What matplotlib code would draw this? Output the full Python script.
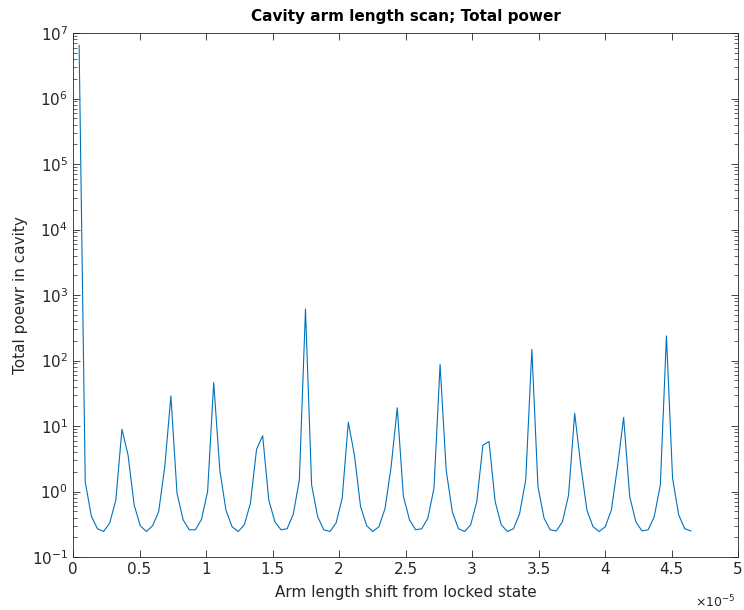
import numpy as np
import matplotlib
matplotlib.use('Agg')
import matplotlib.pyplot as plt
from matplotlib.ticker import FuncFormatter, LogLocator

# sample step of the arm length scan (m)
dx = 0.046e-5
n_samples = 101

# total power, one value per sample
power = [
    6.5e6, 1.4, 0.42, 0.27, 0.245, 0.33, 0.74, 8.9, 3.6, 0.62,
    0.30, 0.245, 0.30, 0.49, 2.4, 28.7, 0.94, 0.37, 0.26, 0.26,
    0.376, 1.0, 46, 2.1, 0.52, 0.29, 0.245, 0.31, 0.66, 4.4,
    7.1, 0.74, 0.345, 0.26, 0.27, 0.45, 1.5, 611, 1.26, 0.41,
    0.26, 0.245, 0.33, 0.79, 11.4, 3.6, 0.59, 0.30, 0.245, 0.29,
    0.55, 2.4, 19, 0.85, 0.37, 0.26, 0.27, 0.39, 1.12, 87,
    2.1, 0.49, 0.27, 0.245, 0.31, 0.70, 5.1, 5.8, 0.70, 0.31,
    0.245, 0.27, 0.46, 1.5, 148, 1.18, 0.39, 0.26, 0.25, 0.345,
    0.88, 15.6, 2.5, 0.52, 0.29, 0.245, 0.29, 0.52, 2.4, 13.5,
    0.83, 0.345, 0.25, 0.26, 0.41, 1.26, 237, 1.6, 0.44, 0.27,
    0.25,
]
shift = np.arange(1, n_samples + 1) * dx

x_ticks = np.arange(0, 5.01, 0.5) * 1e-5

plt.rcParams['font.family'] = 'DejaVu Sans'
fg = '#262626'

fig = plt.figure(figsize=(7.44, 6.10), dpi=100)
ax = fig.add_axes([73 / 744, 53 / 610, 665 / 744, 524 / 610])

ax.semilogy(shift, power, color='#0072BD', lw=0.8)

ax.set_xlim(0, 5e-5)
ax.set_ylim(1e-1, 1e7)
ax.set_xticks(x_ticks)
ax.xaxis.set_major_formatter(FuncFormatter(lambda v, p: '%g' % round(v / 1e-5, 3)))
ax.xaxis.get_offset_text().set_visible(False)
ax.yaxis.set_major_locator(LogLocator(base=10, numticks=20))
ax.yaxis.set_minor_locator(LogLocator(base=10, subs=np.arange(2, 10), numticks=20))

ax.tick_params(which='both', direction='in', top=True, right=True,
               colors=fg, labelsize=11, labelcolor=fg)
ax.tick_params(which='major', length=5, width=0.6)
ax.tick_params(which='minor', length=3, width=0.5)
for s in ax.spines.values():
    s.set_color(fg)
    s.set_linewidth(0.6)

ax.set_title('Cavity arm length scan; Total power', fontsize=11,
             fontweight='bold', color='black', pad=9)
ax.set_xlabel('Arm length shift from locked state', fontsize=11, color=fg, labelpad=6)
ax.set_ylabel('Total poewr in cavity', fontsize=11, color=fg, labelpad=3)
fig.text(695 / 744, 1 - 602 / 610, r'$\times10^{-5}$', ha='left', va='center',
         fontsize=9, color=fg)

fig.savefig('out.png', dpi=100, facecolor='white')
